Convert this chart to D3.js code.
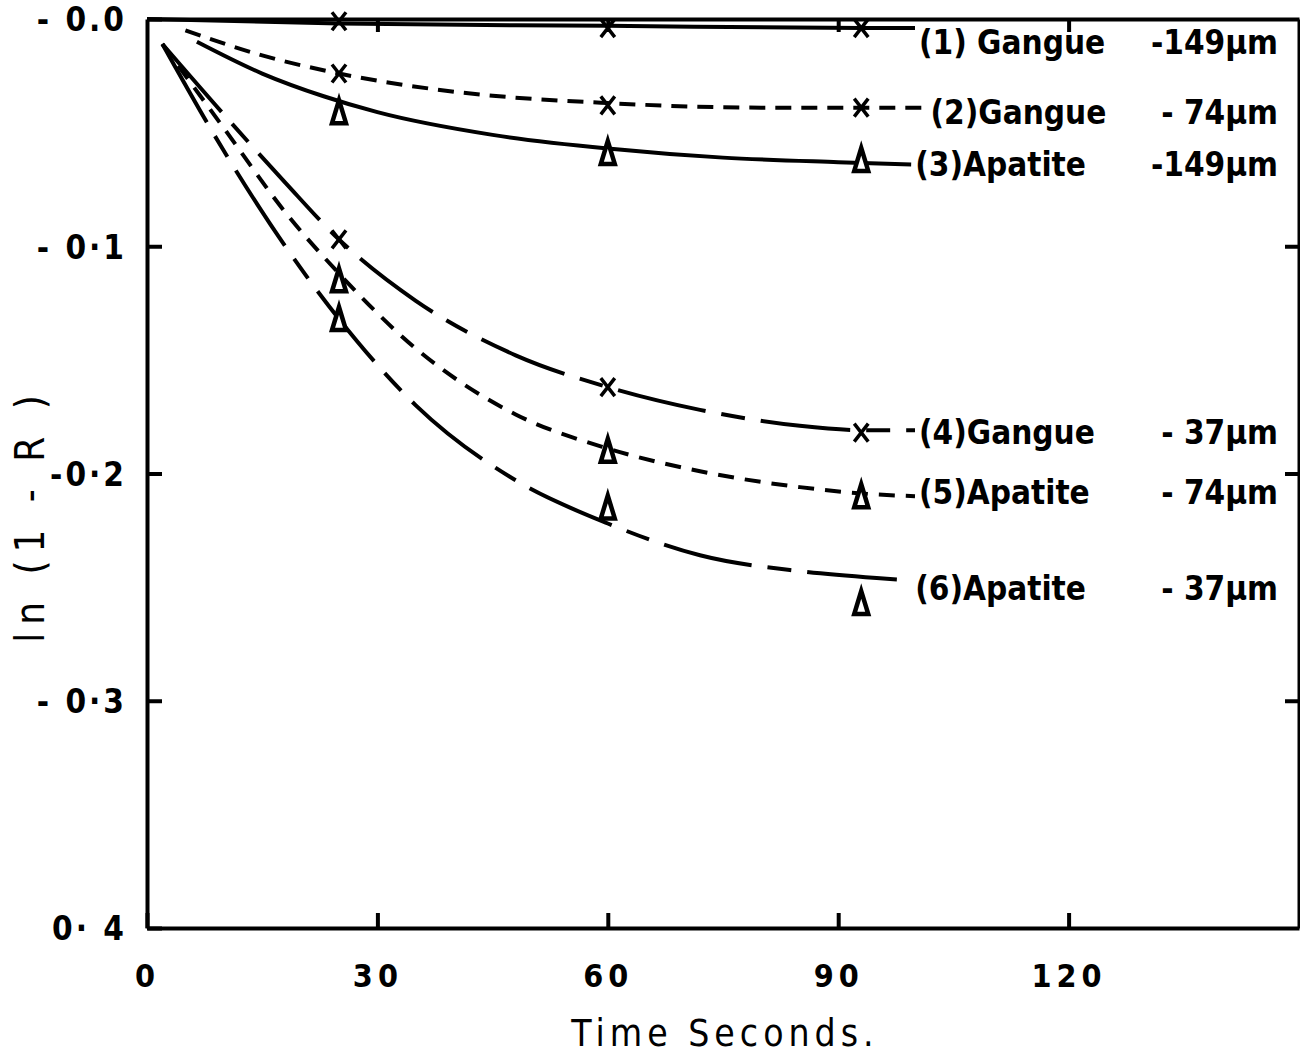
<!DOCTYPE html>
<html>
<head>
<meta charset="utf-8">
<script src="https://cdn.jsdelivr.net/npm/d3@7"></script>
<style>
  body { margin: 0; background: #fff; }
  svg text { font-family: "DejaVu Sans Condensed", "Liberation Sans Narrow", sans-serif; font-weight: bold; fill: #000; }
</style>
</head>
<body>
<div id="chart"></div>
<script>
// values
var xTickValues = [0, 30, 60, 90, 120];
var xTickLabels = ["0", "30", "60", "90", "120"];
var yTickValues = [0, -0.1, -0.2, -0.3, -0.4];
var yTickLabels = ["- 0.0", "- 0\u00b71", "-0\u00b72", "- 0\u00b73", "0\u00b7 4"];

var seriesNames = ["(1) Gangue", "(2)Gangue", "(3)Apatite", "(4)Gangue", "(5)Apatite", "(6)Apatite"];
var seriesSizes = ["-149\u00b5m", "- 74\u00b5m", "-149\u00b5m", "- 37\u00b5m", "- 74\u00b5m", "- 37\u00b5m"];
var markerTypes = ["x", "x", "tri", "x", "tri", "tri"];

// measured points
var markerTimes = [25, 60, 93];
var marks1 = [-0.001, -0.004, -0.004];
var marks2 = [-0.024, -0.038, -0.039];
var marks3 = [-0.041, -0.059, -0.062];
var marks4 = [-0.097, -0.162, -0.182];
var marks5 = [-0.115, -0.190, -0.210];
var marks6 = [-0.132, -0.215, -0.257];

// drawn curves
var curveT1 = [0, 25, 60, 93, 100];
var curve1 = [-0.0, -0.002, -0.003, -0.004, -0.004];
var curveT2 = [5, 15, 25, 40, 60, 80, 101.5];
var curve2 = [-0.005, -0.016, -0.024, -0.032, -0.037, -0.039, -0.039];
var curveT3 = [6.5, 15, 23, 30, 45, 60, 75, 90, 99.5];
var curve3 = [-0.010, -0.024, -0.034, -0.041, -0.051, -0.057, -0.061, -0.063, -0.064];
var curveT4 = [2, 10, 18, 25, 35, 48, 60, 72, 85, 94, 100];
var curve4 = [-0.011, -0.042, -0.072, -0.097, -0.124, -0.148, -0.162, -0.172, -0.179, -0.181, -0.181];
var curveT5 = [2, 10, 18, 25, 35, 48, 60, 72, 85, 94, 100];
var curve5 = [-0.011, -0.048, -0.085, -0.112, -0.145, -0.174, -0.189, -0.199, -0.206, -0.209, -0.210];
var curveT6 = [2, 10, 18, 25, 35, 48, 60, 72, 85, 95, 99.5];
var curve6 = [-0.011, -0.058, -0.100, -0.132, -0.170, -0.203, -0.222, -0.236, -0.243, -0.246, -0.247];

var marks = [marks1, marks2, marks3, marks4, marks5, marks6];
var curveTs = [curveT1, curveT2, curveT3, curveT4, curveT5, curveT6];
var curves = [curve1, curve2, curve3, curve4, curve5, curve6];

// layout
var width = 1300, height = 1055;
var plotLeft = 147, plotRight = 1299, plotTop = 19, plotBottom = 928;
var dashes = [null, "16,10", null, "90,16,24,16", "16,11", "90,16,24,16"];
var labelDy = [14, 4, 0, 2, -4, 8];

var svg = d3.select("#chart")
  .append("svg")
  .attr("width", width)
  .attr("height", height);

svg.append("rect")
  .attr("width", width)
  .attr("height", height)
  .attr("fill", "#fff");

var x = d3.scaleLinear().domain([0, 150]).range([plotLeft, plotRight]);
var y = d3.scaleLinear().domain([0, -0.4]).range([plotTop, plotBottom]);

// axes with inward ticks, the domains make the frame
var xAxis = svg.append("g")
  .attr("transform", "translate(0," + plotBottom + ")")
  .call(d3.axisBottom(x).tickValues(xTickValues).tickSizeInner(-15).tickSizeOuter(0)
    .tickPadding(36).tickFormat(function(d, i) { return xTickLabels[i]; }));

var yAxis = svg.append("g")
  .attr("transform", "translate(" + plotLeft + ",0)")
  .call(d3.axisLeft(y).tickValues(yTickValues).tickSizeInner(-15).tickSizeOuter(0)
    .tickPadding(20).tickFormat(function(d, i) { return yTickLabels[i]; }));

var topAxis = svg.append("g")
  .attr("transform", "translate(0," + plotTop + ")")
  .call(d3.axisTop(x).tickValues([30, 60, 90, 120]).tickSizeInner(-13).tickSizeOuter(0).tickFormat(""));

var rightAxis = svg.append("g")
  .attr("transform", "translate(" + plotRight + ",0)")
  .call(d3.axisRight(y).tickValues([-0.1, -0.2, -0.3]).tickSizeInner(-14).tickSizeOuter(0).tickFormat(""));

[xAxis, yAxis, topAxis, rightAxis].forEach(function(a) {
  a.select(".domain").attr("stroke", "#000").attr("stroke-width", 4);
  a.selectAll(".tick line").attr("stroke", "#000").attr("stroke-width", 4);
});

xAxis.selectAll("text").style("font-size", "32px").attr("letter-spacing", "5px");
yAxis.selectAll("text").style("font-size", "33px").attr("dy", "0.36em").attr("letter-spacing", "3px");

// axis titles
svg.append("text")
  .attr("x", 725)
  .attr("y", 1046)
  .attr("text-anchor", "middle")
  .attr("letter-spacing", "5px")
  .style("font-size", "37px")
  .style("font-weight", "normal")
  .text("Time  Seconds.");

svg.append("text")
  .attr("transform", "translate(44,515) rotate(-90)")
  .attr("text-anchor", "middle")
  .attr("letter-spacing", "8px")
  .style("font-size", "40px")
  .style("font-weight", "normal")
  .text("ln (1 - R )");

// curves
var line = d3.line()
  .x(function(d) { return x(d[0]); })
  .y(function(d) { return y(d[1]); })
  .curve(d3.curveMonotoneX);

curves.forEach(function(c, i) {
  var pts = curveTs[i].map(function(t, j) { return [t, c[j]]; });
  svg.append("path")
    .attr("class", "series s" + (i + 1))
    .attr("d", line(pts))
    .attr("fill", "none")
    .attr("stroke", "#000")
    .attr("stroke-width", 4)
    .attr("stroke-dasharray", dashes[i]);
});

// markers
var triPath = "M0,-12 L7,11 L-7,11 Z";
var crossPath = "M-7,-9 L7,9 M7,-9 L-7,9";

marks.forEach(function(m, i) {
  svg.selectAll(".m" + (i + 1))
    .data(m)
    .enter().append("path")
    .attr("class", "m" + (i + 1))
    .attr("transform", function(d, j) { return "translate(" + x(markerTimes[j]) + "," + y(d) + ")"; })
    .attr("d", markerTypes[i] == "tri" ? triPath : crossPath)
    .attr("fill", "#fff")
    .attr("stroke", "#000")
    .attr("stroke-width", markerTypes[i] == "tri" ? 4.5 : 3.5);
});

// legend labels at curve ends
curves.forEach(function(c, i) {
  var ts = curveTs[i];
  var ly = y(c[c.length - 1]) + labelDy[i];
  svg.append("text")
    .attr("x", x(ts[ts.length - 1]) + 4)
    .attr("y", ly)
    .attr("dy", "0.36em")
    .style("font-size", "33px")
    .text(seriesNames[i]);
  svg.append("text")
    .attr("x", 1278)
    .attr("y", ly)
    .attr("dy", "0.36em")
    .attr("text-anchor", "end")
    .style("font-size", "33px")
    .text(seriesSizes[i]);
});
</script>
</body>
</html>
